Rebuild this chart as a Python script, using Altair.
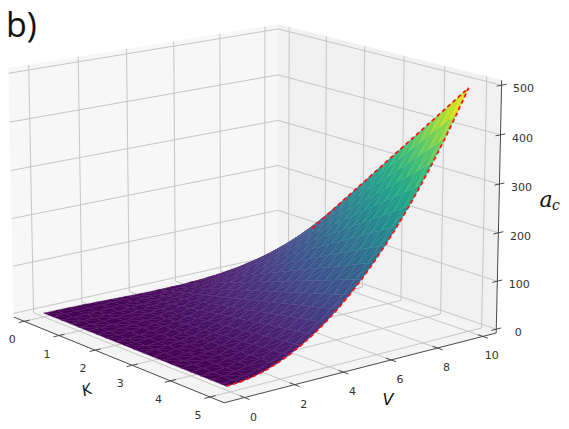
import math
import altair as alt

k_values = [0, .25, .5, .75, 1, 1.25, 1.5, 1.75, 2, 2.25, 2.5, 2.75, 3, 3.25, 3.5, 3.75, 4, 4.25, 4.5, 4.75, 4.9]
v_values = [0, .5, 1, 1.5, 2, 2.5, 3, 3.5, 4, 4.5, 5, 5.5, 6, 6.5, 7, 7.5, 8, 8.5, 9, 9.5, 10]
a_c = [
 [0]*21,
 [0,.1,.3,.6,1,1.6,2.3,3.1,4,5.1,6.3,7.6,9,10.6,12.3,14.1,16,18.1,20.3,22.6,25],
 [0,.1,.5,1.1,2,3.1,4.5,6.1,8,10.1,12.5,15.1,18,21.1,24.5,28.1,32,36.1,40.5,45.1,50],
 [0,.2,.8,1.7,3,4.7,6.8,9.2,12,15.2,18.8,22.7,27,31.7,36.8,42.2,48,54.2,60.8,67.7,75],
 [0,.3,1,2.3,4,6.3,9,12.3,16,20.3,25,30.3,36,42.3,49,56.3,64,72.3,81,90.3,100],
 [0,.3,1.3,2.8,5,7.8,11.3,15.3,20,25.3,31.3,37.8,45,52.8,61.3,70.3,80,90.3,101.3,112.8,125],
 [0,.4,1.5,3.4,6,9.4,13.5,18.4,24,30.4,37.5,45.4,54,63.4,73.5,84.4,96,108.4,121.5,135.4,150],
 [0,.4,1.8,3.9,7,10.9,15.8,21.4,28,35.4,43.8,52.9,63,73.9,85.8,98.4,112,126.4,141.8,157.9,175],
 [0,.5,2,4.5,8,12.5,18,24.5,32,40.5,50,60.5,72,84.5,98,112.5,128,144.5,162,180.5,200],
 [0,.6,2.3,5.1,9,14.1,20.3,27.6,36,45.6,56.3,68.1,81,95.1,110.3,126.6,144,162.6,182.3,203.1,225],
 [0,.6,2.5,5.6,10,15.6,22.5,30.6,40,50.6,62.5,75.6,90,105.6,122.5,140.6,160,180.6,202.5,225.6,250],
 [0,.7,2.8,6.2,11,17.2,24.8,33.7,44,55.7,68.8,83.2,99,116.2,134.8,154.7,176,198.7,222.8,248.2,275],
 [0,.8,3,6.8,12,18.8,27,36.8,48,60.8,75,90.8,108,126.8,147,168.8,192,216.8,243,270.8,300],
 [0,.8,3.3,7.3,13,20.3,29.3,39.8,52,65.8,81.3,98.3,117,137.3,159.3,182.8,208,234.8,263.3,293.3,325],
 [0,.9,3.5,7.9,14,21.9,31.5,42.9,56,70.9,87.5,105.9,126,147.9,171.5,196.9,224,252.9,283.5,315.9,350],
 [0,.9,3.8,8.4,15,23.4,33.8,45.9,60,75.9,93.8,113.4,135,158.4,183.8,210.9,240,270.9,303.8,338.4,375],
 [0,1,4,9,16,25,36,49,64,81,100,121,144,169,196,225,256,289,324,361,400],
 [0,1.1,4.3,9.6,17,26.6,38.3,52.1,68,86.1,106.3,128.6,153,179.6,208.3,239.1,272,307.1,344.3,383.6,425],
 [0,1.1,4.5,10.1,18,28.1,40.5,55.1,72,91.1,112.5,136.1,162,190.1,220.5,253.1,288,325.1,364.5,406.1,450],
 [0,1.2,4.8,10.7,19,29.7,42.8,58.2,76,96.2,118.8,143.7,171,200.7,232.8,267.2,304,343.2,384.8,428.7,475],
 [0,1.2,4.9,11,19.6,30.6,44.1,60,78.4,99.2,122.5,148.2,176.4,207,240.1,275.6,313.6,354,396.9,442.2,490],
]
k_ticks = [0, 1, 2, 3, 4, 5]
v_ticks = [0, 2, 4, 6, 8, 10]
z_ticks = [0, 100, 200, 300, 400, 500]

k_start = [0, 0, .01, .02, .04, .06, .09, .12, .16, .2, .25, .3, .36, .42, .49, .56, .64, .72, .81, .9, 1]

KLIM = (-0.3, 5.35)
VLIM = (-0.8, 10.6)
ZLIM = (-8, 510)
ELEV, AZIM, DIST = 15.0, -38.7, 10.0
BOX = (1.143, 1.143, 0.857)
SX, SY = 3035.0, 3029.0
X0, Y0 = 253.0, 201.0

e, a = math.radians(ELEV), math.radians(AZIM)
DIR = (math.cos(e)*math.cos(a), math.cos(e)*math.sin(a), math.sin(e))
RIGHT = (-math.sin(a), math.cos(a), 0.0)
UP = (-math.sin(e)*math.cos(a), -math.sin(e)*math.sin(a), math.cos(e))


def world(k, v, z):
    return (((k-KLIM[0])/(KLIM[1]-KLIM[0])-.5)*BOX[0],
            ((v-VLIM[0])/(VLIM[1]-VLIM[0])-.5)*BOX[1],
            ((z-ZLIM[0])/(ZLIM[1]-ZLIM[0])-.5)*BOX[2])


def dot(p, q):
    return sum(x*y for x, y in zip(p, q))


def depth(k, v, z):
    return DIST - dot(world(k, v, z), DIR)


def proj(k, v, z):
    p = world(k, v, z)
    d = DIST - dot(p, DIR)
    return [SX*dot(p, RIGHT)/d, SY*dot(p, UP)/d]


def poly(pts, **props):
    c = [proj(*p) for p in pts]
    return {"type": "Feature", "properties": props,
            "geometry": {"type": "Polygon", "coordinates": [c + [c[0]]]}}


def line(pts, **props):
    return {"type": "Feature", "properties": props,
            "geometry": {"type": "LineString", "coordinates": [proj(*p) for p in pts]}}


def inside(p):
    """Signed distance in k from the surface's back edge, between table columns too."""
    s = min(p[1]/0.5, len(k_start)-1.000001)
    j = int(s)
    return p[0] - (k_start[j] + (s-j)*(k_start[j+1]-k_start[j]))


def clip(pts, f, closed=True):
    out = []
    n = len(pts)
    for i in range(n if closed else n-1):
        p, q = pts[i], pts[(i+1) % n]
        fp, fq = f(p), f(q)
        if fp >= -1e-9:
            out.append(p)
        if (fp > 1e-9 and fq < -1e-9) or (fp < -1e-9 and fq > 1e-9):
            t = fp/(fp-fq)
            out.append(tuple(p[c]+t*(q[c]-p[c]) for c in range(3)))
    if not closed and n and f(pts[-1]) >= -1e-9:
        out.append(pts[-1])
    return out


def clip_domain(pts, closed=True):
    return clip(pts, inside, closed)


k0, k1 = KLIM
v0, v1 = VLIM
z0, z1 = ZLIM

PROJ = dict(type="identity", scale=1, translate=[X0-8, Y0-8], reflectY=True)


def shapes(features, **mark):
    return alt.Chart(alt.Data(values=features)).mark_geoshape(**mark).project(**PROJ)


panes = [
    ("#f7f7f7", [(k0, v0, z0), (k0, v1, z0), (k0, v1, z1), (k0, v0, z1)]),
    ("#f1f1f1", [(k0, v1, z0), (k1, v1, z0), (k1, v1, z1), (k0, v1, z1)]),
    ("#f4f4f4", [(k0, v0, z0), (k1, v0, z0), (k1, v1, z0), (k0, v1, z0)]),
]
pane_layers = [shapes([poly(p)], fill=c, stroke=c, strokeWidth=0.5) for c, p in panes]

grid = []
for t in k_ticks:
    grid.append(line([(t, v0, z0), (t, v1, z0), (t, v1, z1)]))
for t in v_ticks:
    grid.append(line([(k1, t, z0), (k0, t, z0), (k0, t, z1)]))
for t in z_ticks:
    grid.append(line([(k0, v0, t), (k0, v1, t), (k1, v1, t)]))
grid_layer = shapes(grid, filled=False, stroke="#c6c6c6", strokeWidth=1)

axes = [line([(k0, v0, z0), (k1, v0, z0), (k1, v1, z0), (k1, v1, z1)])]
dk, dv = 0.12, 0.22
for t in k_ticks:
    axes.append(line([(t, v0-dv, z0), (t, v0+dv, z0)]))
for t in v_ticks:
    axes.append(line([(k1+dk, t, z0), (k1-dk, t, z0)]))
for t in z_ticks:
    axes.append(line([(k1, v1+dv, t), (k1, v1-dv, t)]))
axis_layer = shapes(axes, filled=False, stroke="#4a4a4a", strokeWidth=1)

tris = []
for i in range(len(k_values)-1):
    for j in range(len(v_values)-1):
        A = (k_values[i], v_values[j], a_c[i][j])
        B = (k_values[i+1], v_values[j], a_c[i+1][j])
        C = (k_values[i+1], v_values[j+1], a_c[i+1][j+1])
        D = (k_values[i], v_values[j+1], a_c[i][j+1])
        for tri in ((A, B, C), (A, C, D)):
            m = sum(p[2] for p in tri)/3
            part = clip_domain(list(tri))
            if len(part) >= 3:
                dist = sum(depth(*p) for p in part)/len(part)
                tris.append((dist, poly(part, c=m)))
tris.sort(key=lambda t: -t[0])
COLOR = alt.Scale(scheme="viridis", domain=[0, 485])
surface = shapes([t[1] for t in tris], strokeWidth=0.4).encode(
    fill=alt.Fill("properties.c:Q", scale=COLOR, legend=None),
    stroke=alt.Stroke("properties.c:Q", scale=COLOR, legend=None),
)

mesh = []
for i in range(len(k_values)):
    r = clip_domain([(k_values[i], v_values[j], a_c[i][j]) for j in range(len(v_values))], closed=False)
    if len(r) >= 2:
        mesh.append(line(r))
for j in range(len(v_values)):
    r = clip_domain([(k_values[i], v_values[j], a_c[i][j]) for i in range(len(k_values))], closed=False)
    if len(r) >= 2:
        mesh.append(line(r))
mesh_layer = shapes(mesh, filled=False, stroke="#ffffff", strokeOpacity=0.1, strokeWidth=0.6)

front = [(k_values[-1], v_values[j], a_c[-1][j]) for j in range(len(v_values))]
top = [(k_values[i], v_values[-1], a_c[i][-1]) for i in range(len(k_values)-2, -1, -1)]
edge = [line(clip_domain(front + top, closed=False))]
edge_layer = shapes(edge, filled=False, stroke="#ff1010", strokeWidth=1.7, strokeDash=[4, 3])


def labels(rows, **mark):
    return alt.Chart(alt.Data(values=rows)).mark_text(**mark).encode(
        longitude="x:Q", latitude="y:Q", text="t:N").project(**PROJ)


def lab(t, p, dx, dy):
    x, y = proj(*p)
    return {"x": x+dx, "y": y-dy, "t": str(t)}


tick_rows = [lab(t, (t, v0, z0), -12, 19) for t in k_ticks]
tick_rows += [lab(t, (k1, t, z0), 9, 20) for t in v_ticks]
tick_rows += [lab(t, (k1, v1, t), 22, 4) for t in z_ticks]
tick_layer = labels(tick_rows, font="DejaVu Sans", fontSize=11, color="#333333")


def at(px, py, t):
    return {"x": px-X0, "y": Y0-py, "t": t}


title = labels([at(6, 27, "b)")], font="Open Sans", fontSize=34, color="#111111", align="left")
k_label = labels([at(87, 390, "K")], font="DejaVu Sans", fontSize=15, fontStyle="italic", color="#111111", angle=340)
v_label = labels([at(388, 400, "V")], font="DejaVu Sans", fontSize=16, fontStyle="italic", color="#111111")
ac_a = labels([at(546, 200, "a")], font="DejaVu Serif", fontSize=22, fontStyle="italic", color="#111111")
ac_c = labels([at(556, 206, "c")], font="DejaVu Serif", fontSize=14, fontStyle="italic", color="#111111")

chart = alt.layer(
    *pane_layers, grid_layer, axis_layer, surface, mesh_layer, edge_layer,
    tick_layer, title, k_label, v_label, ac_a, ac_c,
).properties(width=553, height=413, padding=0, autosize=alt.AutoSizeParams(type="none"),
             background="#ffffff").configure_view(stroke=None)

chart.save("out.html", embed_options={"renderer": "svg", "actions": False})
